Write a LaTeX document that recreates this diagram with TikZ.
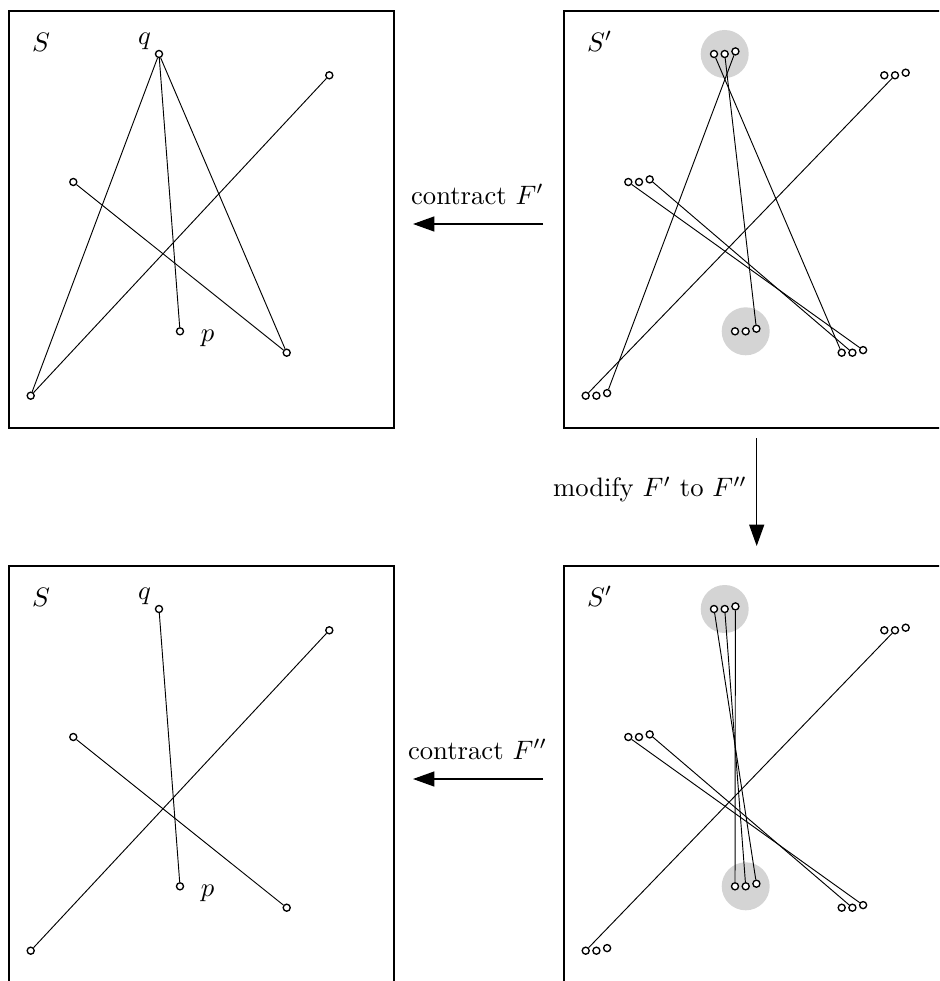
\documentclass[tikz,border=0pt]{standalone}
\usetikzlibrary{arrows.meta}
\newcommand\cluster[3]{%
  \node[vtx] (#1a) at (#2,#3) {};
  \node[vtx] (#1b) at (#2+10.7,#3) {};
  \node[vtx] (#1c) at (#2+21.4,#3-2.6) {};
}
\begin{document}
\begin{tikzpicture}[x=0.375pt,y=-0.375pt,
  frame/.style={draw, line width=0.55pt},
  vtx/.style={circle, draw, fill=white, line width=0.5pt, inner sep=0pt, minimum size=2.65pt},
  seg/.style={line width=0.35pt},
  halo/.style={circle, fill=black!17, inner sep=0pt, minimum size=18pt},
  lbl/.style={inner sep=0pt},
  flow/.style={line width=0.55pt, -{Triangle[length=8pt,width=5.6pt]}}]
\useasboundingbox (0,0) rectangle (939,981);
\clip (0,0) rectangle (939,981);

% frames
\draw[frame] (9,11) rectangle (394,428);
\draw[frame] (564,11) rectangle (949,428);
\draw[frame] (9,566) rectangle (394,983);
\draw[frame] (564,566) rectangle (949,983);

% halos
\node[halo] (Bh1) at (724.7,54) {};
\node[halo] (Bh2) at (745.7,331.3) {};
\node[halo] (Dh1) at (724.7,609) {};
\node[halo] (Dh2) at (745.7,886.3) {};

% top-left S
\node[vtx] (Aq) at (159,54) {};
\node[vtx] (At) at (329.3,75.3) {};
\node[vtx] (Al) at (73.3,182) {};
\node[vtx] (Ap) at (180,331.3) {};
\node[vtx] (Ar) at (286.7,352.7) {};
\node[vtx] (Ab) at (30.7,395.7) {};
\draw[seg] (Aq) -- (Ab);
\draw[seg] (Aq) -- (Ap);
\draw[seg] (Aq) -- (Ar);
\draw[seg] (Al) -- (Ar);
\draw[seg] (Ab) -- (At);
\node[lbl, anchor=base west] (AS) at (31.5,51.5) {$S$};
\node[lbl, anchor=base] (AQ) at (144.5,44.8) {$q$};
\node[lbl, anchor=base] (AP) at (207.5,341.5) {$p$};

% bottom-left S
\node[vtx] (Cq) at (159,609) {};
\node[vtx] (Ct) at (329.3,630.3) {};
\node[vtx] (Cl) at (73.3,737) {};
\node[vtx] (Cp) at (180,886.3) {};
\node[vtx] (Cr) at (286.7,907.7) {};
\node[vtx] (Cb) at (30.7,950.7) {};
\draw[seg] (Cq) -- (Cp);
\draw[seg] (Cl) -- (Cr);
\draw[seg] (Cb) -- (Ct);
\node[lbl, anchor=base west] (CS) at (31.5,606.5) {$S$};
\node[lbl, anchor=base] (CQ) at (144.5,599.8) {$q$};
\node[lbl, anchor=base] (CP) at (207.5,896.5) {$p$};

% top-right S'
\cluster{Bq}{714}{54}
\cluster{Bt}{884.3}{75.3}
\cluster{Bl}{628.3}{182}
\cluster{Bp}{735}{331.3}
\cluster{Br}{841.7}{352.7}
\cluster{Bb}{585.7}{395.7}
\draw[seg] (Bqc) -- (Bbc);
\draw[seg] (Bqb) -- (Bpc);
\draw[seg] (Bqa) -- (Bra);
\draw[seg] (Bla) -- (Brc);
\draw[seg] (Blc) -- (Brb);
\draw[seg] (Bba) -- (Btb);
\node[lbl, anchor=base west] (BS) at (586.5,51.5) {$S'$};

% bottom-right S'
\cluster{Dq}{714}{609}
\cluster{Dt}{884.3}{630.3}
\cluster{Dl}{628.3}{737}
\cluster{Dp}{735}{886.3}
\cluster{Dr}{841.7}{907.7}
\cluster{Db}{585.7}{950.7}
\draw[seg] (Dqc) -- (Dpa);
\draw[seg] (Dqb) -- (Dpb);
\draw[seg] (Dqa) -- (Dpc);
\draw[seg] (Dla) -- (Drc);
\draw[seg] (Dlc) -- (Drb);
\draw[seg] (Dba) -- (Dtb);
\node[lbl, anchor=base west] (DS) at (586.5,606.5) {$S'$};

% arrows and labels
\coordinate (h1s) at (543,224);
\coordinate (h1e) at (413,224);
\draw[flow] (h1s) -- (h1e);
\node[lbl, anchor=base] (T1) at (477.5,204.3) {contract $F'$};

\coordinate (h2s) at (543,779);
\coordinate (h2e) at (413,779);
\draw[flow] (h2s) -- (h2e);
\node[lbl, anchor=base] (T2) at (477.5,759.3) {contract $F''$};

\coordinate (v1s) at (756.7,438.3);
\coordinate (v1e) at (756.7,546);
\draw[flow] (v1s) -- (v1e);
\node[lbl, anchor=base] (T3) at (650,496.7) {modify $F'$ to $F''$};
\end{tikzpicture}
\end{document}
